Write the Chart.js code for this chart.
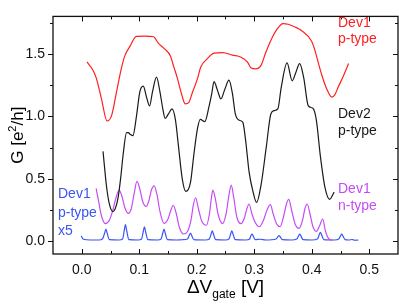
<!DOCTYPE html>
<html>
<head>
<meta charset="utf-8">
<script src="https://cdn.jsdelivr.net/npm/chart.js@4.4.1/dist/chart.umd.min.js"></script>
<style>
  html, body { margin: 0; padding: 0; background: #fff; }
  #wrap { width: 399px; height: 305px; }
</style>
</head>
<body>
<div id="wrap"><canvas id="chart" width="399" height="305"></canvas></div>
<script>
// Dev1 p-type (red)
const redX = [0.009, 0.019, 0.025, 0.034, 0.044, 0.052, 0.060, 0.069, 0.075, 0.084, 0.095, 0.110, 0.125, 0.133, 0.145, 0.154, 0.160, 0.166, 0.174, 0.180, 0.186, 0.192, 0.201, 0.207, 0.218, 0.230, 0.245, 0.262, 0.277, 0.288, 0.294, 0.303, 0.312, 0.320, 0.329, 0.340, 0.350, 0.359, 0.370, 0.382, 0.400, 0.405, 0.411, 0.418, 0.426, 0.435, 0.440, 0.446, 0.455, 0.464];
const redY = [1.436, 1.373, 1.310, 1.147, 0.964, 1.009, 1.185, 1.386, 1.486, 1.562, 1.640, 1.643, 1.637, 1.587, 1.536, 1.486, 1.398, 1.310, 1.172, 1.100, 1.110, 1.185, 1.298, 1.395, 1.460, 1.506, 1.511, 1.490, 1.474, 1.436, 1.390, 1.380, 1.410, 1.511, 1.610, 1.700, 1.742, 1.737, 1.717, 1.687, 1.600, 1.536, 1.436, 1.323, 1.220, 1.155, 1.172, 1.235, 1.323, 1.423];

// Dev2 p-type (black)
const blackX = [0.037, 0.043, 0.048, 0.054, 0.058, 0.063, 0.068, 0.072, 0.078, 0.081, 0.084, 0.089, 0.095, 0.101, 0.107, 0.113, 0.118, 0.123, 0.130, 0.136, 0.141, 0.145, 0.151, 0.157, 0.163, 0.168, 0.175, 0.181, 0.189, 0.195, 0.201, 0.206, 0.214, 0.221, 0.226, 0.230, 0.236, 0.242, 0.249, 0.256, 0.262, 0.267, 0.273, 0.280, 0.285, 0.291, 0.298, 0.304, 0.312, 0.321, 0.329, 0.335, 0.341, 0.347, 0.357, 0.366, 0.372, 0.379, 0.386, 0.394, 0.402, 0.408, 0.415, 0.423, 0.431, 0.439];
const blackY = [0.721, 0.444, 0.300, 0.239, 0.260, 0.344, 0.520, 0.696, 0.871, 0.870, 0.858, 0.846, 0.997, 1.197, 1.242, 1.148, 1.084, 1.197, 1.315, 1.197, 1.060, 0.984, 1.022, 1.060, 0.971, 0.771, 0.495, 0.400, 0.470, 0.696, 0.896, 0.977, 0.959, 1.072, 1.180, 1.278, 1.210, 1.140, 1.220, 1.290, 1.185, 1.022, 0.971, 0.954, 0.809, 0.557, 0.395, 0.312, 0.457, 0.758, 1.022, 1.047, 1.060, 1.235, 1.428, 1.285, 1.348, 1.423, 1.310, 1.084, 1.065, 0.971, 0.683, 0.432, 0.337, 0.395];

// Dev1 n-type (purple)
const purpleX = [0.025, 0.029, 0.034, 0.041, 0.048, 0.054, 0.059, 0.065, 0.070, 0.075, 0.081, 0.086, 0.091, 0.096, 0.101, 0.106, 0.112, 0.117, 0.121, 0.126, 0.131, 0.136, 0.143, 0.150, 0.155, 0.159, 0.164, 0.170, 0.177, 0.184, 0.190, 0.194, 0.198, 0.203, 0.209, 0.217, 0.222, 0.225, 0.228, 0.232, 0.237, 0.245, 0.251, 0.256, 0.260, 0.264, 0.270, 0.277, 0.283, 0.287, 0.291, 0.296, 0.302, 0.309, 0.316, 0.322, 0.328, 0.333, 0.339, 0.345, 0.351, 0.356, 0.360, 0.365, 0.371, 0.378, 0.384, 0.388, 0.392, 0.397, 0.402, 0.408, 0.414, 0.419, 0.424, 0.430, 0.436];
const purpleY = [0.425, 0.330, 0.210, 0.143, 0.170, 0.250, 0.340, 0.410, 0.360, 0.270, 0.225, 0.260, 0.380, 0.480, 0.420, 0.320, 0.280, 0.330, 0.410, 0.445, 0.370, 0.240, 0.145, 0.180, 0.250, 0.290, 0.230, 0.110, 0.060, 0.080, 0.170, 0.290, 0.350, 0.260, 0.160, 0.130, 0.220, 0.330, 0.410, 0.350, 0.220, 0.143, 0.220, 0.370, 0.450, 0.360, 0.190, 0.143, 0.190, 0.260, 0.300, 0.220, 0.150, 0.118, 0.170, 0.250, 0.295, 0.220, 0.140, 0.118, 0.200, 0.300, 0.337, 0.250, 0.140, 0.105, 0.170, 0.260, 0.300, 0.220, 0.120, 0.080, 0.130, 0.180, 0.080, 0.020, 0.010];

// Dev1 p-type x5 (blue)
const blueX = [-0.001, 0.003, 0.015, 0.030, 0.036, 0.040, 0.042, 0.044, 0.048, 0.065, 0.071, 0.074, 0.076, 0.078, 0.082, 0.098, 0.104, 0.107, 0.109, 0.111, 0.115, 0.132, 0.138, 0.141, 0.143, 0.145, 0.149, 0.165, 0.175, 0.184, 0.187, 0.189, 0.191, 0.195, 0.215, 0.222, 0.225, 0.227, 0.229, 0.233, 0.250, 0.256, 0.259, 0.261, 0.263, 0.267, 0.285, 0.292, 0.294, 0.296, 0.298, 0.302, 0.310, 0.320, 0.338, 0.341, 0.343, 0.345, 0.349, 0.365, 0.374, 0.377, 0.379, 0.381, 0.385, 0.400, 0.410, 0.413, 0.415, 0.417, 0.421, 0.440, 0.447, 0.450, 0.452, 0.454, 0.458, 0.465, 0.470, 0.475, 0.481];
const blueY = [0.045, 0.018, 0.012, 0.012, 0.020, 0.070, 0.100, 0.070, 0.015, 0.012, 0.020, 0.090, 0.136, 0.090, 0.015, 0.012, 0.020, 0.080, 0.118, 0.080, 0.015, 0.012, 0.020, 0.070, 0.100, 0.070, 0.015, 0.012, 0.014, 0.020, 0.050, 0.068, 0.050, 0.015, 0.012, 0.020, 0.060, 0.086, 0.060, 0.015, 0.012, 0.020, 0.060, 0.086, 0.060, 0.015, 0.012, 0.020, 0.045, 0.060, 0.045, 0.015, 0.018, 0.012, 0.020, 0.038, 0.048, 0.038, 0.015, 0.012, 0.020, 0.045, 0.060, 0.045, 0.015, 0.012, 0.020, 0.055, 0.073, 0.055, 0.015, 0.012, 0.020, 0.045, 0.060, 0.045, 0.015, 0.012, 0.016, 0.010, 0.012];

const xTicks = [0.0, 0.1, 0.2, 0.3, 0.4, 0.5];
const xMinorTicks = [0.05, 0.15, 0.25, 0.35, 0.45];
const yTicks = [0.0, 0.5, 1.0, 1.5];
const yMinorTicks = [0.25, 0.75, 1.25, 1.75];

const RED = '#ff1f1f';
const BLACK = '#1a1a1a';
const PURPLE = '#c54cf5';
const BLUE = '#3a55f5';
const FONT = "'Liberation Sans', Arial, Helvetica, sans-serif";

function pts(xs, ys) {
    return xs.map((x, i) => ({ x: x, y: ys[i] }));
}

function series(xs, ys, color) {
    return {
        data: pts(xs, ys),
        borderColor: color,
        borderWidth: 1.2,
        pointRadius: 0,
        showLine: true,
        fill: false,
        cubicInterpolationMode: 'monotone'
    };
}

const decor = {
    id: 'decor',
    afterDraw(chart) {
        const ctx = chart.ctx;
        const a = chart.chartArea;
        const xs = chart.scales.x, ys = chart.scales.y;
        ctx.save();
        ctx.strokeStyle = '#111';
        ctx.lineWidth = 1.3;
        ctx.strokeRect(a.left, a.top, a.right - a.left, a.bottom - a.top);

        ctx.lineWidth = 1;
        ctx.beginPath();
        // x ticks, inward on bottom and top
        xTicks.forEach(v => {
            const p = Math.round(xs.getPixelForValue(v)) + 0.5;
            ctx.moveTo(p, a.bottom); ctx.lineTo(p, a.bottom - 5);
            ctx.moveTo(p, a.top); ctx.lineTo(p, a.top + 5);
        });
        xMinorTicks.forEach(v => {
            const p = Math.round(xs.getPixelForValue(v)) + 0.5;
            ctx.moveTo(p, a.bottom); ctx.lineTo(p, a.bottom - 3);
            ctx.moveTo(p, a.top); ctx.lineTo(p, a.top + 3);
        });
        // y ticks, outward on left, inward on right
        yTicks.forEach(v => {
            const p = Math.round(ys.getPixelForValue(v)) + 0.5;
            ctx.moveTo(a.left, p); ctx.lineTo(a.left - 5, p);
            ctx.moveTo(a.right, p); ctx.lineTo(a.right - 5, p);
        });
        yMinorTicks.forEach(v => {
            const p = Math.round(ys.getPixelForValue(v)) + 0.5;
            ctx.moveTo(a.left, p); ctx.lineTo(a.left - 3, p);
            ctx.moveTo(a.right, p); ctx.lineTo(a.right - 3, p);
        });
        ctx.stroke();

        // y title: G [e^2/h]
        ctx.fillStyle = '#000';
        ctx.translate(23, (a.top + a.bottom) / 2);
        ctx.rotate(-Math.PI / 2);
        ctx.font = '17px ' + FONT;
        const t1 = 'G [e', t2 = '2', t3 = '/h]';
        const w1 = ctx.measureText(t1).width, w3 = ctx.measureText(t3).width;
        ctx.font = '11px ' + FONT;
        const w2 = ctx.measureText(t2).width;
        let sx = -(w1 + w2 + w3) / 2;
        ctx.font = '17px ' + FONT;
        ctx.fillText(t1, sx, 0);
        ctx.font = '11px ' + FONT;
        ctx.fillText(t2, sx + w1, -7);
        ctx.font = '17px ' + FONT;
        ctx.fillText(t3, sx + w1 + w2, 0);
        ctx.restore();

        // x title: ΔV_gate [V]
        ctx.save();
        ctx.fillStyle = '#000';
        const s1 = '\u0394V', s2 = 'gate', s3 = ' [V]';
        ctx.font = '19px ' + FONT;
        const u1 = ctx.measureText(s1).width, u3 = ctx.measureText(s3).width;
        ctx.font = '12px ' + FONT;
        const u2 = ctx.measureText(s2).width;
        let bx = (a.left + a.right) / 2 - (u1 + u2 + u3) / 2;
        const by = 293;
        ctx.font = '19px ' + FONT;
        ctx.fillText(s1, bx, by);
        ctx.font = '12px ' + FONT;
        ctx.fillText(s2, bx + u1, by + 5);
        ctx.font = '19px ' + FONT;
        ctx.fillText(s3, bx + u1 + u2, by);

        // curve labels
        ctx.font = '14px ' + FONT;
        const lab = (lines, x, y0, dy, color) => {
            ctx.fillStyle = color;
            lines.forEach((s, i) => ctx.fillText(s, x, y0 + i * dy));
        };
        lab(['Dev1', 'p-type'], 338, 27, 16, RED);
        lab(['Dev2', 'p-type'], 338, 118, 17, BLACK);
        lab(['Dev1', 'n-type'], 338, 193, 16.5, PURPLE);
        lab(['Dev1', 'p-type', 'x5'], 58, 198, 18.5, BLUE);
        ctx.restore();
    }
};

new Chart(document.getElementById('chart'), {
    type: 'scatter',
    data: {
        datasets: [
            series(redX, redY, RED),
            series(blackX, blackY, BLACK),
            series(purpleX, purpleY, PURPLE),
            series(blueX, blueY, BLUE)
        ]
    },
    options: {
        responsive: false,
        animation: false,
        devicePixelRatio: 1,
        layout: { padding: { top: 2, right: 1, left: 0, bottom: 0 } },
        plugins: { legend: { display: false }, tooltip: { enabled: false } },
        scales: {
            x: {
                type: 'linear',
                min: -0.05,
                max: 0.55,
                afterBuildTicks: s => { s.ticks = xTicks.map(v => ({ value: v })); },
                afterFit: s => { s.height = 51; },
                grid: { display: false, drawTicks: false },
                border: { display: false },
                ticks: {
                    padding: 8,
                    color: '#111',
                    font: { size: 14, family: FONT },
                    callback: v => Number(v).toFixed(1)
                }
            },
            y: {
                type: 'linear',
                min: -0.1,
                max: 1.8,
                afterBuildTicks: s => { s.ticks = yTicks.map(v => ({ value: v })); },
                afterFit: s => { s.width = 53; },
                grid: { display: false, drawTicks: false },
                border: { display: false },
                ticks: {
                    padding: 8,
                    color: '#111',
                    font: { size: 14, family: FONT },
                    callback: v => Number(v).toFixed(1)
                }
            }
        }
    },
    plugins: [decor]
});
</script>
</body>
</html>
